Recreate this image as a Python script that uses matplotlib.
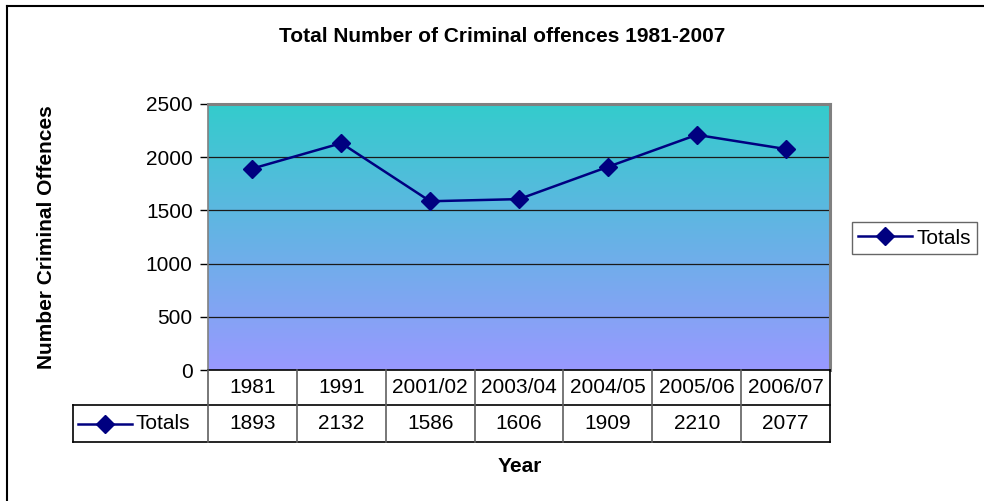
import numpy as np
import matplotlib
matplotlib.use("Agg")
import matplotlib.pyplot as plt
from matplotlib.colors import LinearSegmentedColormap
from matplotlib.lines import Line2D
import matplotlib.transforms as mtransforms

plt.rcParams['font.family'] = ['Liberation Sans', 'DejaVu Sans']

years = ["1981", "1991", "2001/02", "2003/04", "2004/05", "2005/06", "2006/07"]
totals = [1893, 2132, 1586, 1606, 1909, 2210, 2077]
series_name = "Totals"
yticks = [0, 500, 1000, 1500, 2000, 2500]

W, H = 984, 501
fig = plt.figure(figsize=(W / 100, H / 100), dpi=100)
FS = 15

def fx(px):
    return px / W

def fy(py):
    return 1 - py / H

left, right, top, bottom = 208, 830, 104, 370
ax = fig.add_axes([fx(left), fy(bottom), fx(right - left), (bottom - top) / H])

n = len(years)
x = np.arange(n)
ax.set_xlim(-0.5, n - 0.5)
ax.set_ylim(0, 2500)

# vertical gradient fill of the plot area
cmap = LinearSegmentedColormap.from_list("bg", ["#9999FF", "#33CCCC"])
grad = np.linspace(0, 1, 256).reshape(-1, 1)
ax.imshow(grad, cmap=cmap, aspect="auto", origin="lower",
          extent=(-0.5, n - 0.5, 0, 2500), zorder=0)

for v in yticks[1:-1]:
    ax.axhline(v, color="#1a1a1a", lw=0.9, zorder=1)

navy = "#000080"
ax.plot(x, totals, color=navy, lw=1.8, marker="D", markersize=9,
        markerfacecolor=navy, markeredgecolor=navy, zorder=3)

ax.set_yticks(yticks)
ax.set_yticklabels([str(t) for t in yticks], fontsize=FS)
ax.tick_params(axis="y", direction="out", length=6, width=1, pad=5)
ax.set_xticks([])

for s in ["top", "right"]:
    ax.spines[s].set_color("#808080")
    ax.spines[s].set_linewidth(2.2)
ax.spines["left"].set_color("#808080")
ax.spines["left"].set_linewidth(1.2)
ax.spines["bottom"].set_color("black")
ax.spines["bottom"].set_linewidth(1.2)

# data table beneath the axis
trans = mtransforms.blended_transform_factory(ax.transData, ax.transAxes)
ph = bottom - top
r1 = -35 / ph
r2 = -72 / ph
col_w = (right - left) / n
leg_left = -0.5 - (left - 73) / col_w

def hline(x0, x1, y, color="black", lw=1.2):
    ax.add_line(Line2D([x0, x1], [y, y], transform=trans, color=color,
                       lw=lw, clip_on=False, zorder=5))

def vline(xv, y0, y1, color="#606060", lw=1.2):
    ax.add_line(Line2D([xv, xv], [y0, y1], transform=trans, color=color,
                       lw=lw, clip_on=False, zorder=5))

hline(leg_left, n - 0.5, r1)
hline(leg_left, n - 0.5, r2)
vline(leg_left, r1, r2, color="black")
for i in range(n + 1):
    vline(i - 0.5, 0, r2, color="black" if i == n else "#606060")

for i in range(n):
    ax.text(i, r1 / 2, years[i], transform=trans, ha="center", va="center",
            fontsize=FS, clip_on=False)
    ax.text(i, (r1 + r2) / 2, str(totals[i]), transform=trans, ha="center",
            va="center", fontsize=FS, clip_on=False)

# legend key inside the table's first cell
ym = (r1 + r2) / 2
kx0 = leg_left + 5 / col_w
kx1 = kx0 + 54 / col_w
ax.add_line(Line2D([kx0, kx1], [ym, ym], transform=trans, color=navy, lw=1.8,
                   clip_on=False, zorder=6))
ax.add_line(Line2D([(kx0 + kx1) / 2], [ym], transform=trans, color=navy,
                   marker="D", markersize=9, clip_on=False, zorder=6))
ax.text(kx1 + 4 / col_w, ym, series_name, transform=trans, ha="left",
        va="center", fontsize=FS, clip_on=False)

# right-side legend
handle = Line2D([], [], color=navy, lw=1.8, marker="D", markersize=9)
leg = fig.legend([handle], [series_name], loc="center left",
                 bbox_to_anchor=(fx(852), fy(238)), fontsize=FS,
                 frameon=True, fancybox=False, handlelength=2.6,
                 borderpad=0.3, handletextpad=0.2, borderaxespad=0)
leg.get_frame().set_edgecolor("#404040")
leg.get_frame().set_linewidth(1.0)

fig.text(fx(502), fy(37), "Total Number of Criminal offences 1981-2007",
         ha="center", va="center", fontsize=15, fontweight="bold")
fig.text(fx(47), fy(237), "Number Criminal Offences", rotation=90,
         ha="center", va="center", fontsize=FS, fontweight="bold")
fig.text(fx(520), fy(466), "Year", ha="center", va="center",
         fontsize=FS, fontweight="bold")

# chart-area border
fig.add_artist(Line2D([fx(7), fx(7)], [fy(6), 0], transform=fig.transFigure,
                      color="black", lw=1.5))
fig.add_artist(Line2D([fx(7), 1], [fy(6), fy(6)], transform=fig.transFigure,
                      color="black", lw=1.5))

fig.savefig("out.png", dpi=100)
